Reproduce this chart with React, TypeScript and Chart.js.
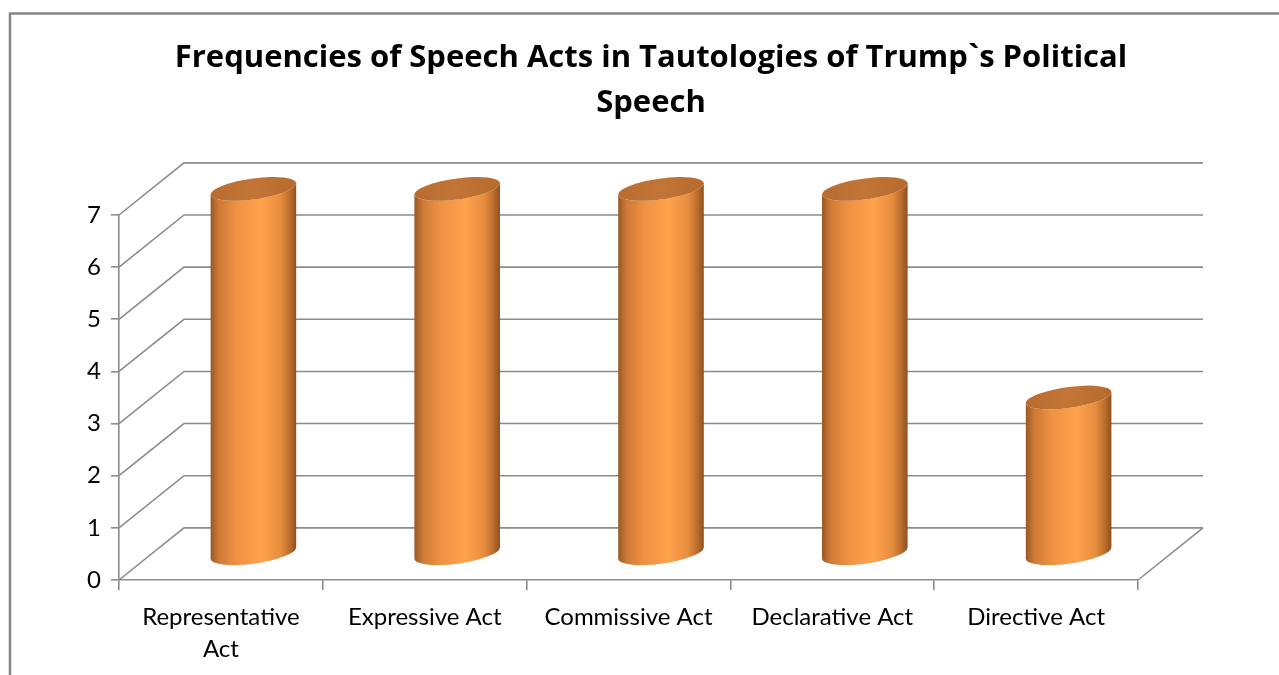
import React, { useEffect, useRef } from "react";
import { Chart, registerables } from "chart.js";

Chart.register(...registerables);

const categories: (string | string[])[] = [
  ["Representative", "Act"],
  "Expressive Act",
  "Commissive Act",
  "Declarative Act",
  "Directive Act",
];
const values: number[] = [7, 7, 7, 7, 3];
const yMin = 0;
const yMax = 7;
const yStep = 1;
const titleLines: string[] = [
  "Frequencies of Speech Acts in Tautologies of Trump`s Political",
  "Speech",
];

const GRID = "#8c8c8c";
const FONT = "Lato, 'Open Sans', sans-serif";
const TITLE_FONT = "'Open Sans', Lato, sans-serif";

const depthPlugin = {
  id: "depth3d",
  beforeDraw(chart: any) {
    const ctx = chart.ctx;
    ctx.save();
    ctx.strokeStyle = "#878787";
    ctx.lineWidth = 2.5;
    ctx.strokeRect(10, 13.5, 1400, 800);
    ctx.restore();
  },
  beforeDatasetsDraw(chart: any) {
    const ctx = chart.ctx;
    const xs = chart.scales.x;
    const ys = chart.scales.y;
    const dy = -(ys.getPixelForValue(0) - ys.getPixelForValue(1));
    const dx = 65;
    const left = xs.left;
    const right = xs.right;
    ctx.save();
    ctx.strokeStyle = GRID;
    ctx.lineWidth = 1.6;
    ys.ticks.forEach((t: any) => {
      const py = ys.getPixelForValue(t.value);
      ctx.beginPath();
      ctx.moveTo(left, py);
      ctx.lineTo(left + dx, py + dy);
      ctx.lineTo(right + dx, py + dy);
      ctx.stroke();
    });
    const p0 = ys.getPixelForValue(0);
    ctx.beginPath();
    ctx.moveTo(right, p0);
    ctx.lineTo(right + dx, p0 + dy);
    ctx.stroke();
    ctx.restore();
  },
  afterDatasetsDraw(chart: any) {
    const ctx = chart.ctx;
    const ys = chart.scales.y;
    const dy = -(ys.getPixelForValue(0) - ys.getPixelForValue(1));
    const dx = 65;
    const meta = chart.getDatasetMeta(0);
    meta.data.forEach((el: any) => {
      const p = el.getProps(["x", "y", "base", "width"], true);
      const cx = p.x + dx / 2;
      const yt = p.y + dy / 2;
      const yb = p.base + dy / 2;
      const rx = p.width / 2;
      const ry = 10.5;
      const k = -0.13;
      ctx.save();
      ctx.translate(cx, 0);
      ctx.transform(1, k, 0, 1, 0, 0);
      const g = ctx.createLinearGradient(-rx, 0, rx, 0);
      g.addColorStop(0, "#9a5824");
      g.addColorStop(0.1, "#cf7a36");
      g.addColorStop(0.3, "#ef9142");
      g.addColorStop(0.6, "#ffa24c");
      g.addColorStop(0.82, "#e68c3e");
      g.addColorStop(0.93, "#b86b2c");
      g.addColorStop(1, "#8e5020");
      ctx.beginPath();
      ctx.moveTo(-rx, yt);
      ctx.lineTo(-rx, yb);
      ctx.ellipse(0, yb, rx, ry, 0, Math.PI, 0, true);
      ctx.lineTo(rx, yt);
      ctx.ellipse(0, yt, rx, ry, 0, 0, Math.PI, false);
      ctx.closePath();
      ctx.fillStyle = g;
      ctx.fill();
      const tg = ctx.createLinearGradient(-rx, 0, rx, 0);
      tg.addColorStop(0, "#b86c30");
      tg.addColorStop(0.5, "#c27536");
      tg.addColorStop(1, "#b66a2e");
      ctx.beginPath();
      ctx.ellipse(0, yt, rx, ry, 0, 0, Math.PI * 2);
      ctx.fillStyle = tg;
      ctx.fill();
      ctx.restore();
    });
  },
  afterDraw(chart: any) {
    const ctx = chart.ctx;
    ctx.save();
    ctx.fillStyle = "#000";
    ctx.font = `bold 31px ${TITLE_FONT}`;
    ctx.textAlign = "center";
    ctx.textBaseline = "middle";
    titleLines.forEach((line, i) => {
      ctx.fillText(line, 651, 58 + i * 45);
    });
    ctx.restore();
  },
};

export default function App() {
  const ref = useRef<HTMLCanvasElement>(null);
  useEffect(() => {
    if (!ref.current) return;
    const chart = new Chart(ref.current, {
      type: "bar",
      data: {
        labels: categories,
        datasets: [
          {
            data: values,
            backgroundColor: "rgba(0,0,0,0)",
            borderWidth: 0,
            barPercentage: 0.42,
            categoryPercentage: 1,
          },
        ],
      },
      options: {
        responsive: false,
        animation: false,
        devicePixelRatio: 1,
        layout: { padding: { top: 215, left: 0, right: 141, bottom: 0 } },
        plugins: {
          legend: { display: false },
          tooltip: { enabled: false },
          title: { display: false },
        },
        scales: {
          x: {
            afterFit: (s: any) => {
              s.height = 95;
            },
            grid: {
              display: true,
              drawOnChartArea: false,
              drawTicks: true,
              tickLength: 10,
              color: GRID,
              lineWidth: 1.6,
              offset: true,
            },
            border: { display: true, color: GRID, width: 1.6 },
            ticks: {
              color: "#000",
              font: { family: FONT, size: 24, lineHeight: 1.33 },
              padding: 11,
              maxRotation: 0,
              autoSkip: false,
            },
          },
          y: {
            min: yMin,
            max: yMax,
            afterFit: (s: any) => {
              s.width = 119;
            },
            grid: {
              display: true,
              drawOnChartArea: false,
              drawTicks: true,
              tickLength: 8,
              color: GRID,
              lineWidth: 1.6,
            },
            border: { display: true, color: GRID, width: 1.6 },
            ticks: {
              stepSize: yStep,
              color: "#000",
              font: { family: FONT, size: 24 },
              padding: 10,
            },
          },
        },
      },
      plugins: [depthPlugin],
    });
    return () => chart.destroy();
  }, []);
  return (
    <div style={{ position: "fixed", left: 0, top: 0, width: 1279, height: 675, background: "#fff" }}>
      <canvas ref={ref} width={1279} height={675} style={{ display: "block" }} />
    </div>
  );
}
